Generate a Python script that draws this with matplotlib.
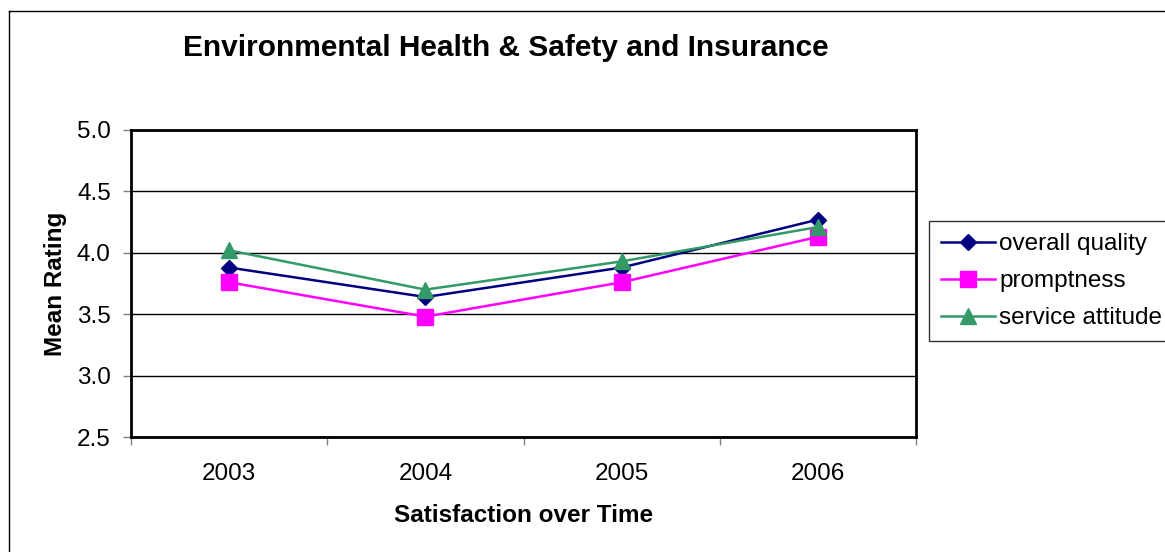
import matplotlib.pyplot as plt
import numpy as np
from matplotlib.lines import Line2D

plt.rcParams['font.family'] = ['Liberation Sans', 'DejaVu Sans']

#%% data

years = ['2003', '2004', '2005', '2006']
overall_quality = [3.88, 3.64, 3.88, 4.27]
promptness = [3.76, 3.48, 3.76, 4.13]
service_attitude = [4.02, 3.70, 3.93, 4.21]

#%% plot

W, H = 1165, 552
fig = plt.figure(figsize=(W/100, H/100), dpi=100)
ax = fig.add_axes([131/W, 1 - 437/H, (916-131)/W, (437-130)/H])

x = np.arange(len(years))
ax.plot(x, overall_quality, color='#000080', marker='D', markersize=8,
        linewidth=1.8, label='overall quality', zorder=3)
ax.plot(x, promptness, color='#FF00FF', marker='s', markersize=11,
        linewidth=1.8, label='promptness', zorder=3)
ax.plot(x, service_attitude, color='#339966', marker='^', markersize=11.5,
        linewidth=1.8, label='service attitude', zorder=4)

ax.set_xlim(-0.5, len(years) - 0.5)
ax.set_ylim(2.5, 5.0)
yt = np.arange(2.5, 5.01, 0.5)
ax.set_yticks(yt)
ax.set_yticklabels(['{:.1f}'.format(v) for v in yt])
ax.yaxis.grid(True, color='black', linewidth=1)
ax.set_axisbelow(True)

# category ticks sit between categories, labels in the middle
ax.set_xticks(np.arange(-0.5, len(years), 1.0))
ax.set_xticklabels([])
ax.set_xticks(x, minor=True)
ax.set_xticklabels(years, minor=True)
ax.tick_params(axis='x', which='minor', length=0, pad=19, labelsize=17.5)
ax.tick_params(axis='x', which='major', length=6, width=1, color='#808080',
               direction='out')
ax.tick_params(axis='y', length=6, width=1, color='#808080', direction='out',
               labelsize=17.5, pad=8.5)

for s in ax.spines.values():
    s.set_linewidth(2)
    s.set_color('black')

ax.set_ylabel('Mean Rating', fontsize=17.5, fontweight='bold')
ax.yaxis.set_label_coords(-0.082, 0.5)
ax.set_xlabel('Satisfaction over Time', fontsize=17.5, fontweight='bold')
ax.xaxis.set_label_coords(0.5, -0.218)
fig.text(506/W, 1 - 48/H, 'Environmental Health & Safety and Insurance',
         fontsize=21.5, fontweight='bold', ha='center', va='center')

leg = ax.legend(loc='upper left', bbox_to_anchor=(929/W, 1 - 221/H),
                bbox_transform=fig.transFigure, fontsize=17.5, frameon=True,
                fancybox=False, edgecolor='black', handlelength=2.2,
                borderpad=0.5, labelspacing=0.62, handletextpad=0.2,
                borderaxespad=0)
leg.get_frame().set_linewidth(1)

# outer chart border (right and bottom edges run off the picture)
fig.add_artist(Line2D([9/W, 9/W], [0, 1 - 11/H], color='black',
                      linewidth=1, transform=fig.transFigure))
fig.add_artist(Line2D([9/W, 1], [1 - 11/H, 1 - 11/H], color='black',
                      linewidth=1, transform=fig.transFigure))

fig.savefig('out.png', dpi=100)
